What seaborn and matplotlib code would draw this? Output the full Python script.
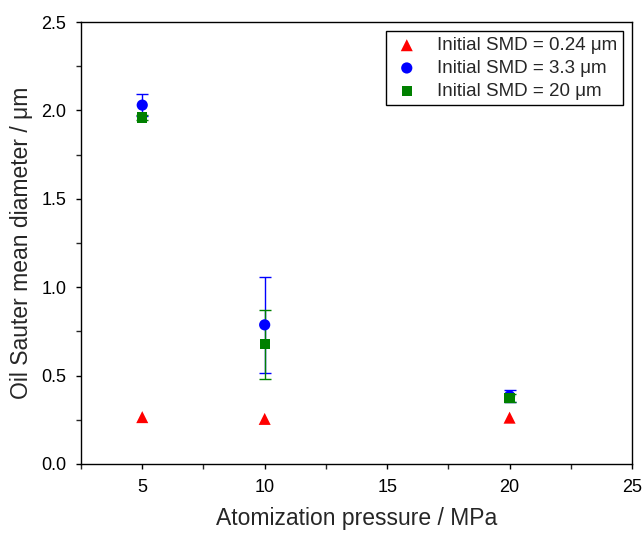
import pandas as pd
import matplotlib
matplotlib.use("Agg")
import matplotlib.pyplot as plt
import seaborn as sns
from matplotlib.ticker import MultipleLocator

# values
pressure = [5, 10, 20]
smd_024 = [0.265, 0.255, 0.262]
err_024 = [0.0, 0.0, 0.0]
smd_33 = [2.03, 0.787, 0.385]
err_33 = [0.06, 0.27, 0.035]
smd_20 = [1.96, 0.677, 0.373]
err_20 = [0.015, 0.195, 0.025]
labels = ["Initial SMD = 0.24 \u03bcm", "Initial SMD = 3.3 \u03bcm", "Initial SMD = 20 \u03bcm"]

sns.set_style("ticks")
plt.rcParams['font.family'] = ['Liberation Sans', 'DejaVu Sans']

df = pd.DataFrame({
    'pressure': pressure * 3,
    'smd': smd_024 + smd_33 + smd_20,
    'err': err_024 + err_33 + err_20,
    'series': [labels[0]] * 3 + [labels[1]] * 3 + [labels[2]] * 3,
})

colors = ['#ff0000', '#0000ff', '#008000']
markers = ['^', 'o', 's']
sizes = [75, 65, 55]

fig = plt.figure(figsize=(6.44, 5.33), dpi=100)
ax = fig.add_axes([0.1258, 0.1295, 0.8556, 0.8292])

# error bars drawn in series order (blue first, green on top)
for lab, col in zip(labels[1:], colors[1:]):
    sub = df[df['series'] == lab]
    ax.errorbar(sub['pressure'], sub['smd'], yerr=sub['err'], fmt='none',
                ecolor=col, elinewidth=1, capsize=4, capthick=1, zorder=2)

for lab, col, mk, sz in zip(labels, colors, markers, sizes):
    sub = df[df['series'] == lab]
    sns.scatterplot(data=sub, x='pressure', y='smd', color=col, marker=mk,
                    s=sz, edgecolor='none', label=lab, ax=ax, zorder=3)

ax.set_xlim(2.5, 25)
ax.set_ylim(0, 2.5)
ax.xaxis.set_major_locator(MultipleLocator(5))
ax.xaxis.set_minor_locator(MultipleLocator(2.5))
ax.yaxis.set_major_locator(MultipleLocator(0.5))
ax.yaxis.set_minor_locator(MultipleLocator(0.25))
ax.tick_params(which='major', direction='out', length=3.5, width=1, labelsize=13,
               colors='black', pad=7)
ax.tick_params(which='minor', direction='out', length=3.5, width=1)
for sp in ax.spines.values():
    sp.set_visible(True)
    sp.set_linewidth(1)
    sp.set_color('black')

ax.set_xlabel('Atomization pressure / MPa', fontsize=16.5, labelpad=8)
ax.set_ylabel('Oil Sauter mean diameter / \u03bcm', fontsize=16.5, labelpad=6)

leg = ax.legend(loc='upper right', fontsize=13.5, frameon=True, fancybox=False,
                edgecolor='black', framealpha=1, borderpad=0.3, handletextpad=0.8,
                labelspacing=0.3, borderaxespad=0.5, handlelength=1.6)
leg.get_frame().set_linewidth(1)

fig.savefig('out.png', dpi=100)
